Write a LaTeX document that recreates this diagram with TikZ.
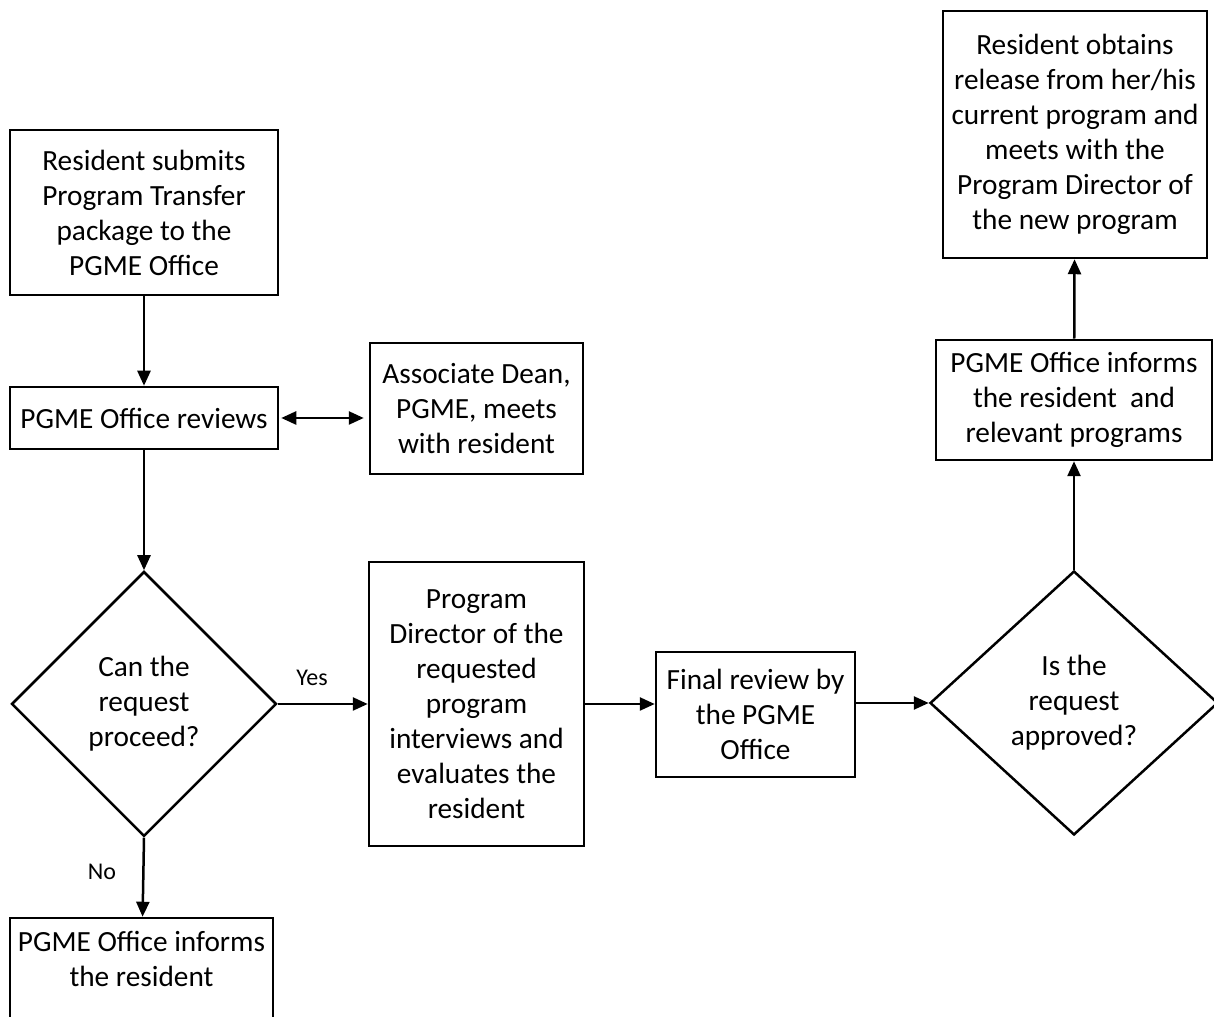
\documentclass[tikz,border=0pt]{standalone}
\usepackage{fontspec}
\setmainfont{Carlito}
\usetikzlibrary{arrows.meta}
\usetikzlibrary{shapes.geometric}

\begin{document}
\begin{tikzpicture}[>={Triangle[length=15bp,width=13bp]},line join=miter,
  stepbox/.style={draw,line width=2.5bp,align=center,inner sep=0pt,font=\fontsize{29.3bp}{35bp}\selectfont},
  askbox/.style={stepbox,diamond},
  flow/.style={line width=2.5bp,->}]
\useasboundingbox (0bp,0bp) rectangle (1214bp,1017bp);
%%
\node (submit) at (144bp,804.5bp) [stepbox,minimum width=268bp,minimum height=165bp] {Resident submits\\Program Transfer\\package to the\\PGME Office};
  \node (reviews) at (144bp,599bp) [stepbox,minimum width=268bp,minimum height=62bp] {PGME Office reviews};
  \node (dean) at (476.5bp,608.5bp) [stepbox,minimum width=213bp,minimum height=131bp] {Associate Dean,\\PGME, meets\\with resident};
  \node (proceed) at (144bp,313bp) [askbox,minimum width=265bp,minimum height=265bp] {Can the\\request\\proceed?};
  \node (director) at (476.5bp,313bp) [stepbox,minimum width=215bp,minimum height=284bp] {Program\\Director of the\\requested\\program\\interviews and\\evaluates the\\resident};
  \node (final) at (755.5bp,302.5bp) [stepbox,minimum width=199bp,minimum height=125bp] {Final review by\\the PGME\\Office};
  \node (approved) at (1074bp,314bp) [askbox,minimum width=288bp,minimum height=264bp] {Is the\\request\\approved?};
  \node (inform) at (1074bp,617bp) [stepbox,minimum width=276bp,minimum height=120bp] {PGME Office informs\\the resident\ \ and\\relevant programs};
  \node (release) at (1075bp,882.5bp) [stepbox,minimum width=264bp,minimum height=247bp] {Resident obtains\\release from her/his\\current program and\\meets with the\\Program Director of\\the new program};
  \node (refuse) at (141.5bp,39bp) [stepbox,minimum width=263bp,minimum height=120bp,text depth=39bp] {PGME Office informs\\the resident};
  \node (yes) at (312bp,339bp) [font=\fontsize{24bp}{30bp}\selectfont] {Yes};
  \node (no) at (102bp,145bp) [font=\fontsize{24bp}{30bp}\selectfont] {No};
  \draw [flow] (submit) -- (reviews);
  \draw [flow,<->,shorten <=2bp,shorten >=5bp] (reviews.east) -- (reviews.east -| dean.west);
  \draw [flow] (reviews) -- (proceed);
  \draw [flow] (proceed.east) -- (director);
  \draw [flow] (proceed.south) -- (refuse);
  \draw [flow] (director.east) -- (director.east -| final.west);
  \draw [flow] (final.east |- approved) -- (approved.west);
  \draw [flow] (approved) -- (inform);
  \draw [flow] (inform) -- (release);
%
\end{tikzpicture}
\end{document}
